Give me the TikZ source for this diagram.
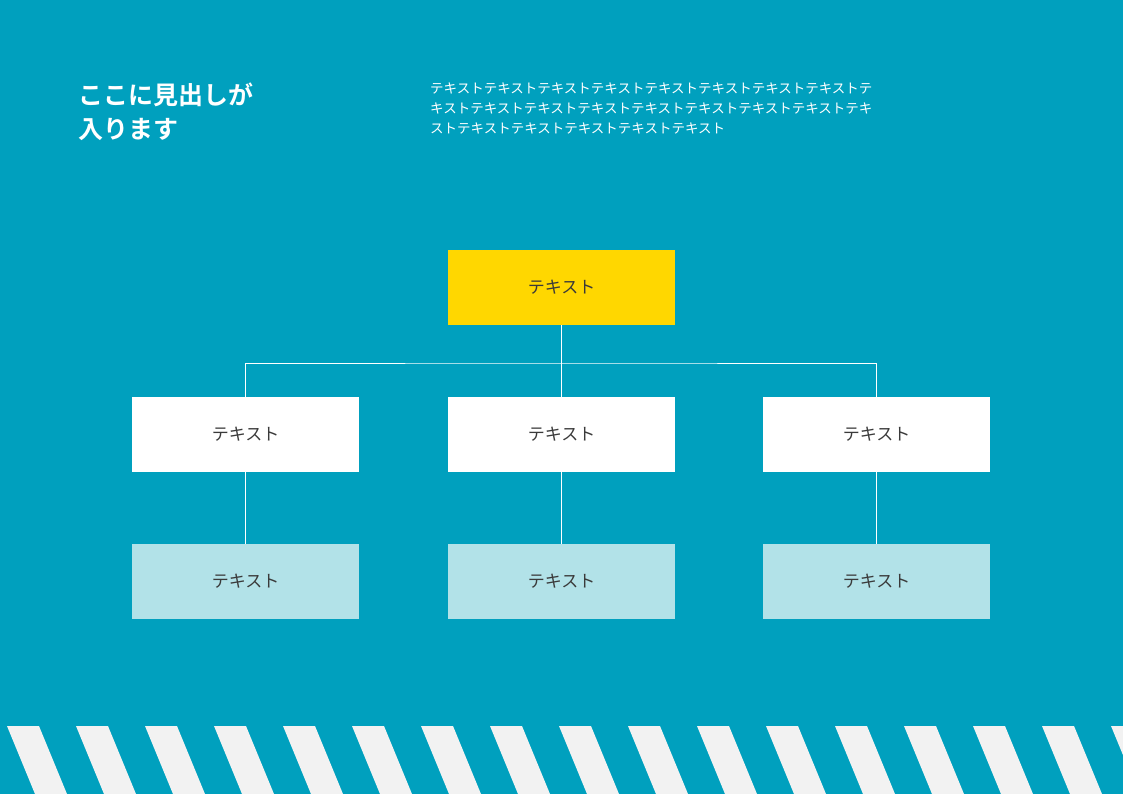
\documentclass[tikz,border=0pt]{standalone}
\usepackage{fontspec}
\newfontfamily\jp{Noto Sans CJK JP}
\newfontfamily\jpb{Noto Sans CJK JP Bold}
\definecolor{bg}{HTML}{00A0BE}
\definecolor{yel}{HTML}{FFD700}
\definecolor{lb}{HTML}{B2E2E8}
\definecolor{st}{HTML}{F2F2F2}
\definecolor{tx}{HTML}{3A3A3A}
\begin{document}
\begin{tikzpicture}[x=1pt,y=-1pt,
  box/.style={minimum width=227pt,minimum height=75pt,inner sep=0pt,font=\jp\fontsize{17}{20}\selectfont,text=tx},
  ln/.style={draw=white,line width=0.6pt}]
\fill[bg] (0,0) rectangle (1123,794);
\useasboundingbox (0,0) rectangle (1123,794);
\foreach \i in {0,...,16} {
  \fill[st] ({7+69*\i},726) -- ({39+69*\i},726) -- ({67+69*\i},794) -- ({35+69*\i},794) -- cycle;
}
\node[anchor=west,text=white,font=\jpb\fontsize{25}{34}\selectfont,align=left,inner sep=0pt] (h) at (78,112) {ここに見出しが\\入ります};
\node[anchor=west,text=white,font=\jp\fontsize{13.5}{20}\selectfont,align=left,inner sep=0pt] (p) at (430,108) {テキストテキストテキストテキストテキストテキストテキストテキストテ\\キストテキストテキストテキストテキストテキストテキストテキストテキ\\ストテキストテキストテキストテキストテキスト};
\node[box,fill=yel] (t) at (561.5,287.5) {テキスト};
\node[box,fill=white] (m1) at (245.5,434.5) {テキスト};
\node[box,fill=white] (m2) at (561.5,434.5) {テキスト};
\node[box,fill=white] (m3) at (876.5,434.5) {テキスト};
\node[box,fill=lb] (b1) at (245.5,581.5) {テキスト};
\node[box,fill=lb] (b2) at (561.5,581.5) {テキスト};
\node[box,fill=lb] (b3) at (876.5,581.5) {テキスト};
\coordinate (j) at (561.5,363);
\draw[ln] (t.south) -- (m2.north);
\draw[ln] (m1.north) |- (j) -| (m3.north);
\draw[ln] (m1.south) -- (b1.north);
\draw[ln] (m2.south) -- (b2.north);
\draw[ln] (m3.south) -- (b3.north);
\end{tikzpicture}
\end{document}
